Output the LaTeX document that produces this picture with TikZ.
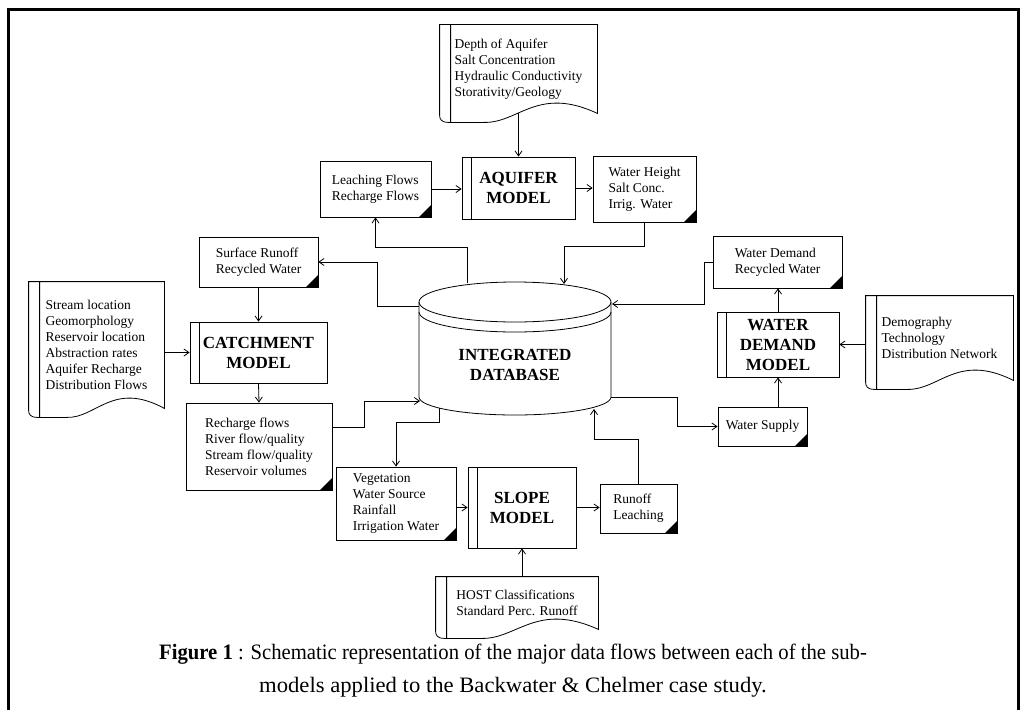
\documentclass[tikz,border=0pt]{standalone}
\usepackage{fontspec}
\setmainfont{Liberation Serif}
\newfontfamily\capfont[FakeStretch=0.94]{Liberation Serif}
\newfontfamily\capfontwide[FakeStretch=1.03]{Liberation Serif}
\usetikzlibrary{arrows.meta,calc}

\tikzset{
  databox/.style={draw, align=left, inner sep=0pt, font=\fontsize{13.5}{16}\selectfont,
    path picture={\fill (path picture bounding box.south east) -- ++(-12pt,0) -- ++(12pt,12pt) -- cycle;}},
  modelbox/.style={draw, align=center, inner sep=0pt, font=\fontsize{17}{20}\selectfont\bfseries,
    path picture={\draw ([xshift=9pt]path picture bounding box.north west) -- ([xshift=9pt]path picture bounding box.south west);}},
  docbox/.style={align=left, inner sep=0pt, font=\fontsize{13.5}{16}\selectfont},
  flow/.style={-{Straight Barb[length=5pt,width=7pt]}}
}

% outline of a document node: wavy bottom and a bar on the left
\newcommand{\docoutline}[1]{%
  \draw let \p1=(#1.north west), \p2=(#1.south east), \n1={\x2-\x1} in
    (\p1) -- (\x2,\y1) -- (\p2)
    .. controls ({\x1+0.62*\n1},{\y2+28}) and ({\x1+0.5*\n1},{\y2-10}) .. ({\x1+0.28*\n1},{\y2-9})
    -- ({\x1+9},{\y2-9}) .. controls ({\x1+2},{\y2-9}) and (\x1,{\y2-6}) .. (\x1,{\y2-2}) -- cycle
    ({\x1+11},\y1) -- ({\x1+11},{\y2-9});}

\begin{document}
\begin{tikzpicture}[x=1pt,y=-1pt,line width=0.8pt]
	\useasboundingbox (0,0) rectangle (1024,709);
	\draw[line width=3pt] (8,712) -- (8,9.5) -- (1018,9.5) -- (1018,712);

	% database
	\draw (515,302) ellipse [x radius=96pt, y radius=20pt];
	\draw (611,312) arc [start angle=0, end angle=-180, x radius=96pt, y radius=20pt];
	\draw (419,302) -- (419,397) arc [start angle=180, end angle=360, x radius=96pt, y radius=18pt] -- (611,302);
	\node[font=\fontsize{17}{20}\selectfont\bfseries, align=center] (db) at (515,365) {INTEGRATED\\DATABASE};
	\coordinate (dbA) at (564,284);
	\coordinate (dbB) at (467,283);
	\coordinate (dbC) at (419,306);
	\coordinate (dbD) at (420,401);
	\coordinate (dbE) at (439,408);
	\coordinate (dbF) at (594,409);
	\coordinate (dbG) at (611,397);
	\coordinate (dbH) at (612,304);

	% models
	\node[modelbox, minimum width=113, minimum height=62] (aquifer) at (518.5,188) {AQUIFER\\MODEL};
	\node[modelbox, minimum width=137, minimum height=61] (catch) at (258.5,352.5) {CATCHMENT\\MODEL};
	\node[modelbox, minimum width=108, minimum height=81] (slope) at (522,507.5) {SLOPE\\MODEL};
	\node[modelbox, minimum width=122, minimum height=65] (wdm) at (778,344.5) {WATER\\DEMAND\\MODEL};

	% data passed between models
	\node[databox, minimum width=111, minimum height=56] (leach) at (375.5,189) {Leaching Flows\\Recharge Flows};
	\node[databox, minimum width=103, minimum height=66] (wheight) at (644.5,189) {Water Height\\Salt Conc.\\Irrig. Water};
	\node[databox, minimum width=119, minimum height=50] (surf) at (258.5,262) {Surface Runoff\\Recycled Water};
	\node[databox, minimum width=146, minimum height=87] (rech) at (259,446.5) {Recharge flows\\River flow/quality\\Stream flow/quality\\Reservoir volumes};
	\node[databox, minimum width=120, minimum height=73] (veg) at (396,503.5) {Vegetation\\Water Source\\Rainfall\\Irrigation Water};
	\node[databox, minimum width=77, minimum height=49] (runoff) at (638.5,508.5) {Runoff\\Leaching};
	\node[databox, minimum width=89, minimum height=39] (wsupply) at (762.5,426.5) {Water Supply};
	\node[databox, minimum width=129, minimum height=52] (wdemand) at (777.5,262) {Water Demand\\Recycled Water};

	% input documents
	\node[docbox, minimum width=157, minimum height=88] (aqdoc) at (518.5,69) {Depth of Aquifer\\Salt Concentration\\Hydraulic Conductivity\\Storativity/Geology};
	\node[docbox, minimum width=135, minimum height=126] (cadoc) at (96.5,345) {Stream location\\Geomorphology\\Reservoir location\\Abstraction rates\\Aquifer Recharge\\Distribution Flows};
	\node[docbox, minimum width=147, minimum height=84] (wddoc) at (939.5,338) {Demography\\Technology\\Distribution Network};
	\node[docbox, minimum width=162, minimum height=52] (sldoc) at (517,603) {HOST Classifications\\Standard Perc. Runoff};
	\docoutline{aqdoc}
	\docoutline{cadoc}
	\docoutline{wddoc}
	\docoutline{sldoc}

	% flows
	\draw[flow] (aqdoc.south) -- (aquifer.north);
	\draw[flow] (leach.east) -- (leach.east -| aquifer.west);
	\draw[flow] (aquifer.east) -- (aquifer.east -| wheight.west);
	\draw[flow] (wheight.south) -- ++(0,24) -| (dbA);
	\draw[flow] (dbB) -- ++(0,-36) -| (leach.south);
	\draw[flow] (dbC) -- ++(-42,0) |- (surf.east);
	\draw[flow] (surf.south) -- (catch.north);
	\draw[flow] (catch.west -| cadoc.east) -- (catch.west);
	\draw[flow] (catch.south) -- (rech.north);
	\draw[flow] ($(rech.north east)!0.28!(rech.south east)$) -- ++(32,0) |- (dbD);
	\draw[flow] (dbE) -- ++(0,14) -| (veg.north);
	\draw[flow] (slope.west -| veg.east) -- (slope.west);
	\draw[flow] (slope.east) -- (slope.east -| runoff.west);
	\draw[flow] (runoff.north) -- ++(0,-44) -| (dbF);
	\draw[flow] (slope.south |- sldoc.north) -- (slope.south);
	\draw[flow] (dbG) -- ++(66,0) |- (wsupply.west);
	\draw[flow] (wdm.south |- wsupply.north) -- (wdm.south);
	\draw[flow] (wdm.north) -- (wdm.north |- wdemand.south);
	\draw[flow] (wdm.east -| wddoc.west) -- (wdm.east);
	\draw[flow] (wdemand.west) -- ++(-8,0) |- (dbH);

	\node[font=\capfont\fontsize{22}{33}\selectfont, align=center] (caption) at (513,671)
		{\textbf{Figure 1} : Schematic representation of the major data flows between each of the sub-\\
		{\capfontwide models applied to the Backwater \& Chelmer case study.}};
\end{tikzpicture}
\end{document}
